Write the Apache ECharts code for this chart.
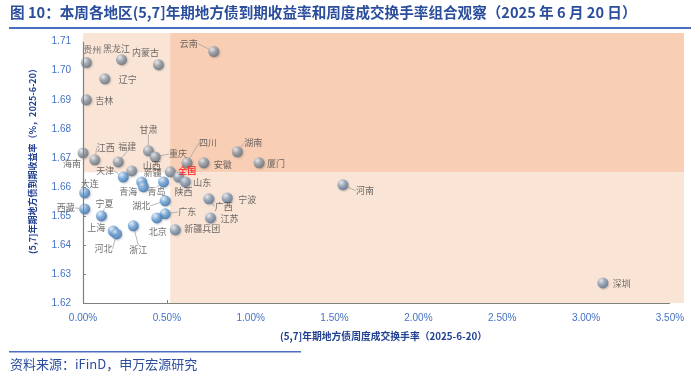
<!DOCTYPE html>
<html lang="zh">
<head>
  <meta charset="UTF-8">
  <title>地区地方债收益率与换手率</title>
  <script src="https://cdn.jsdelivr.net/npm/echarts@6/dist/echarts.min.js"></script>
  <style>
    * { margin: 0; padding: 0; box-sizing: border-box; }
    body { background: #fff; }
    #chart { width: 700px; height: 377px; }
  </style>
</head>
<body>
  <div id="chart"></div>
  <script>
    // 地区、周度成交换手率(%)、到期收益率(%)
    const regions = ['贵州', '黑龙江', '内蒙古', '云南', '辽宁', '吉林', '甘肃', '重庆', '江西', '福建', '海南', '四川', '安徽', '湖南', '厦门', '河南', '深圳', '天津', '山西', '新疆', '青海', '青岛', '全国', '陕西', '山东', '大连', '西藏', '宁夏', '上海', '河北', '浙江', '湖北', '广东', '北京', '新疆兵团', '广西', '宁波', '江苏'];
    const turnover = [0.02, 0.23, 0.45, 0.78, 0.13, 0.02, 0.39, 0.43, 0.07, 0.21, 0.00, 0.62, 0.72, 0.92, 1.05, 1.55, 3.10, 0.24, 0.29, 0.35, 0.36, 0.48, 0.52, 0.57, 0.61, 0.01, 0.01, 0.11, 0.18, 0.20, 0.30, 0.49, 0.49, 0.44, 0.55, 0.75, 0.86, 0.76];
    const yields = [1.7028, 1.7038, 1.7021, 1.7066, 1.6972, 1.6900, 1.6724, 1.6703, 1.6693, 1.6686, 1.6717, 1.6683, 1.6683, 1.6721, 1.6683, 1.6607, 1.6269, 1.6634, 1.6655, 1.6617, 1.6600, 1.6617, 1.6652, 1.6634, 1.6617, 1.6579, 1.6524, 1.6500, 1.6448, 1.6438, 1.6466, 1.6552, 1.6507, 1.6493, 1.6452, 1.6559, 1.6562, 1.6493];

    // 全国水平（分区界线）
    const nationTurnover = 0.52;
    const nationYield = 1.665;

    const xTicks = [0, 0.5, 1.0, 1.5, 2.0, 2.5, 3.0, 3.5];
    const yTicks = [1.62, 1.63, 1.64, 1.65, 1.66, 1.67, 1.68, 1.69, 1.70, 1.71];
    const xMax = 3.584;
    const yMax = 1.713;

    // label placement (dx, dy from the point)
    const labelOffset = {
      '贵州': [6, -13], '黑龙江': [-5, -11], '内蒙古': [-13, -12], '云南': [-25, -8],
      '辽宁': [23, 1], '吉林': [18, 1], '甘肃': [0, -21], '重庆': [23, -3],
      '江西': [11, -12], '福建': [9, -15], '海南': [-11, 11], '四川': [21, -20],
      '安徽': [19, 2], '湖南': [16, -9], '厦门': [17, 1], '河南': [22, 6],
      '深圳': [19, 1], '天津': [-18, -6], '山西': [20, -5], '新疆': [11, -9],
      '青海': [-15, 5], '青岛': [-7, 10], '全国': [17, -1], '陕西': [5, 15],
      '山东': [17, 1], '大连': [5, -9], '西藏': [-19, -1], '宁夏': [3, -12],
      '上海': [-17, -3], '河北': [-13, 15], '浙江': [5, 24], '湖北': [-24, 5],
      '广东': [22, -2], '北京': [1, 14], '新疆兵团': [27, -1], '广西': [15, 8],
      '宁波': [20, 2], '江苏': [19, 1]
    };
    const withLeader = ['云南', '甘肃', '重庆', '江西', '福建', '四川', '湖南', '河南', '西藏', '大连', '宁夏', '河北', '浙江', '湖北', '广东', '青岛', '天津', '广西'];

    function ball(base, edge) {
      return {
        type: 'radial', x: 0.35, y: 0.3, r: 0.75,
        colorStops: [
          { offset: 0, color: '#eef3f8' },
          { offset: 0.45, color: base },
          { offset: 1, color: edge }
        ]
      };
    }
    const grayBall = ball('#98a3af', '#5f6b78');
    const blueBall = ball('#6fa6dc', '#2f6aa8');
    const slateBall = ball('#8fa4bb', '#566f8c');

    const points = regions.map((name, i) => {
      const x = turnover[i], y = yields[i];
      let color = grayBall;
      if (y < nationYield && x < nationTurnover) color = blueBall;
      else if (y < nationYield) color = slateBall;
      const item = {
        name: name,
        value: [x, y],
        itemStyle: { color: color },
        labelLine: { show: withLeader.indexOf(name) >= 0 }
      };
      if (name === '全国') {
        item.label = { color: '#ff1a1a', fontWeight: 'bold' };
      }
      return item;
    });

    const lightFill = { color: '#fae4d6' };
    const darkFill = { color: '#f8ceb5' };

    const option = {
      animation: false,
      graphic: [
        {
          type: 'text', left: 10, top: 5,
          style: {
            text: '图 10：本周各地区(5,7]年期地方债到期收益率和周度成交换手率组合观察（2025 年 6 月 20 日）',
            font: 'bold 14.6px "Noto Sans CJK SC", sans-serif',
            fill: '#2a4d9c'
          }
        },
        { type: 'rect', left: 9, top: 27, shape: { width: 682, height: 2 }, style: { fill: '#4a6fbf' } },
        { type: 'rect', left: 9, top: 351, shape: { width: 292, height: 1.5 }, style: { fill: '#4a6fbf' } },
        {
          type: 'text', left: 10, top: 358,
          style: {
            text: '资料来源：iFinD，申万宏源研究',
            font: '13px "Noto Sans CJK SC", sans-serif',
            fill: '#2a4d9c'
          }
        }
      ],
      grid: { left: 83, right: 16, top: 33, bottom: 74, outerBoundsMode: 'none' },
      xAxis: {
        type: 'value', min: 0, max: xMax,
        name: '(5,7]年期地方债周度成交换手率（2025-6-20）',
        nameLocation: 'middle', nameGap: 28,
        nameTextStyle: { color: '#1f3f8f', fontWeight: 'bold', fontSize: 9.8, fontFamily: '"Noto Sans CJK SC", sans-serif' },
        axisLine: { show: false },
        axisTick: { show: true, inside: true, length: 3, customValues: xTicks, lineStyle: { color: '#808080' } },
        axisLabel: {
          customValues: xTicks, color: '#4472c4', fontSize: 10, margin: 10,
          fontFamily: '"Liberation Sans", sans-serif',
          formatter: v => v.toFixed(2) + '%'
        },
        splitLine: { show: false }
      },
      yAxis: {
        type: 'value', min: yTicks[0], max: yMax,
        name: '(5,7]年期地方债到期收益率（%，2025-6-20）',
        nameLocation: 'middle', nameGap: 46, nameRotate: 90,
        nameTextStyle: {
          color: '#1f3f8f', fontWeight: 'bold', fontSize: 9,
          fontFamily: '"Noto Sans CJK SC", sans-serif',
          padding: [0, 0, 0, 18]
        },
        axisLine: { show: false },
        axisTick: { show: true, inside: true, length: 3, customValues: yTicks, lineStyle: { color: '#808080' } },
        axisLabel: {
          customValues: yTicks, color: '#4472c4', fontSize: 10, margin: 12,
          fontFamily: '"Liberation Sans", sans-serif',
          formatter: v => v.toFixed(2)
        },
        splitLine: { show: false }
      },
      series: [{
        type: 'scatter',
        symbolSize: 11,
        data: points,
        itemStyle: { shadowBlur: 2, shadowColor: 'rgba(0,0,0,0.25)', shadowOffsetX: 1, shadowOffsetY: 1 },
        label: {
          show: true, position: 'inside',
          formatter: p => p.name,
          color: '#4a4a4a', fontSize: 9,
          fontFamily: '"Noto Sans CJK SC", sans-serif'
        },
        labelLine: { show: false, lineStyle: { color: '#a6a6a6', width: 0.8 } },
        labelLayout: params => {
          const off = labelOffset[regions[params.dataIndex]] || [0, -12];
          return { dx: off[0], dy: off[1] };
        },
        markArea: {
          silent: true,
          data: [
            [{ xAxis: 0, yAxis: nationYield, itemStyle: lightFill }, { xAxis: nationTurnover, yAxis: yMax }],
            [{ xAxis: nationTurnover, yAxis: nationYield, itemStyle: darkFill }, { xAxis: xMax, yAxis: yMax }],
            [{ xAxis: nationTurnover, yAxis: yTicks[0], itemStyle: lightFill }, { xAxis: xMax, yAxis: nationYield }]
          ]
        },
        markLine: {
          silent: true, symbol: 'none',
          label: { show: false },
          lineStyle: { color: '#808080', width: 1.2, type: 'solid' },
          data: [
            [{ coord: [xTicks[0], yTicks[0]] }, { coord: [xTicks[xTicks.length - 1], yTicks[0]] }],
            [{ coord: [xTicks[0], yTicks[0]] }, { coord: [xTicks[0], yTicks[yTicks.length - 1]] }]
          ]
        }
      }]
    };

    const chart = echarts.init(document.getElementById('chart'));
    chart.setOption(option);
  </script>
</body>
</html>
